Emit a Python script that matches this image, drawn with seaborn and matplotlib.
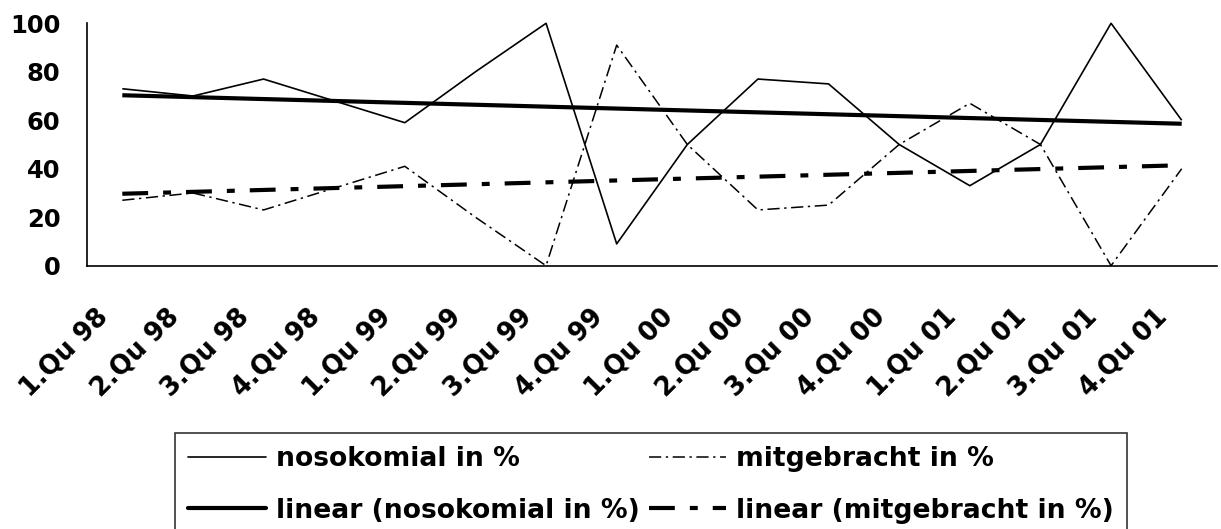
import numpy as np
import pandas as pd
import matplotlib
matplotlib.use("Agg")
import matplotlib.pyplot as plt
import matplotlib.transforms as mtransforms
from matplotlib.lines import Line2D
import seaborn as sns

quartale = ["1.Qu 98", "2.Qu 98", "3.Qu 98", "4.Qu 98",
            "1.Qu 99", "2.Qu 99", "3.Qu 99", "4.Qu 99",
            "1.Qu 00", "2.Qu 00", "3.Qu 00", "4.Qu 00",
            "1.Qu 01", "2.Qu 01", "3.Qu 01", "4.Qu 01"]
nosokomial = [73, 70, 77, 68, 59, 80, 100, 9, 50, 77, 75, 50, 33, 50, 100, 60]
mitgebracht = [27, 30, 23, 32, 41, 20, 0, 91, 50, 23, 25, 50, 67, 50, 0, 40]

sns.set_style("white")
plt.rcParams["font.family"] = ["DejaVu Sans"]
plt.rcParams["font.weight"] = "bold"
for key in ["text.color", "axes.labelcolor", "xtick.color", "ytick.color", "axes.edgecolor"]:
    plt.rcParams[key] = "black"

df = pd.DataFrame({"quartal": quartale, "nosokomial": nosokomial, "mitgebracht": mitgebracht})
df["pos"] = np.arange(len(df))

# lineare Trends wie in Excel
k_noso = np.polyfit(df["pos"], df["nosokomial"], 1)
k_mit = np.polyfit(df["pos"], df["mitgebracht"], 1)
df["trend_noso"] = np.polyval(k_noso, df["pos"])
df["trend_mit"] = np.polyval(k_mit, df["pos"])

fig = plt.figure(figsize=(12.21, 5.29), dpi=100)
ax = fig.add_axes([87 / 1221, 1 - 265.7 / 529, 1130 / 1221, 242.4 / 529])

dash_dot = (8, 3, 1.5, 3)
trend_dash = (6.2, 3.6, 1.9, 3.6)

sns.lineplot(data=df, x="pos", y="nosokomial", color="black", lw=1.2, ax=ax)
sns.lineplot(data=df, x="pos", y="mitgebracht", color="black", lw=1.1, ax=ax)
ax.lines[-1].set_dashes(dash_dot)
sns.lineplot(data=df, x="pos", y="trend_noso", color="black", lw=3, ax=ax)
sns.lineplot(data=df, x="pos", y="trend_mit", color="black", lw=3, ax=ax)
ax.lines[-1].set_dashes(trend_dash)
for ln in ax.lines:
    ln.set_clip_on(False)
    ln.set_solid_capstyle("butt")
    ln.set_dash_capstyle("butt")

ax.set_xlim(-0.5, len(quartale) - 0.5)
ax.set_ylim(0, 100)
ax.set_yticks(range(0, 101, 20))
ax.set_xticks(df["pos"])
ax.set_xticks(np.arange(-0.5, len(quartale), 1), minor=True)
ax.set_xticklabels(quartale, rotation=45, ha="right", va="center",
                   rotation_mode="anchor", fontsize=18.5, fontweight="bold")
ax.tick_params(axis="x", which="major", length=0, pad=34)
ax.tick_params(axis="x", which="minor", length=7.2, width=1.2, direction="out", color="black")
ax.tick_params(axis="y", length=7.2, width=1.2, direction="out", color="black",
               pad=12, labelsize=17.5)
for lab in ax.get_yticklabels():
    lab.set_fontweight("bold")
shift = mtransforms.ScaledTranslation(-18 / 100, 0, fig.dpi_scale_trans)
for lab in ax.get_xticklabels():
    lab.set_transform(lab.get_transform() + shift)

ax.set_xlabel("")
ax.set_ylabel("")
sns.despine(ax=ax, top=True, right=True)
for side in ["left", "bottom"]:
    ax.spines[side].set_color("black")
    ax.spines[side].set_linewidth(1.2)

handles = [
    Line2D([], [], color="black", lw=1.2),
    Line2D([], [], color="black", lw=3),
    Line2D([], [], color="black", lw=1.1, dashes=dash_dot),
    Line2D([], [], color="black", lw=3, dashes=trend_dash),
]
labels = ["nosokomial in %", "linear (nosokomial in %)",
          "mitgebracht in %", "linear (mitgebracht in %)"]
leg = fig.legend(handles, labels, ncol=2, loc="upper center",
                 bbox_to_anchor=(651 / 1221, 1 - 433 / 529),
                 borderaxespad=0, frameon=True, fancybox=False,
                 edgecolor="black", handlelength=2.9, columnspacing=0.35,
                 handletextpad=0.37, labelspacing=0.95, borderpad=0.5,
                 prop={"weight": "bold", "size": 19.2})
leg.get_frame().set_linewidth(1.2)

fig.savefig("out.png", dpi=100)
